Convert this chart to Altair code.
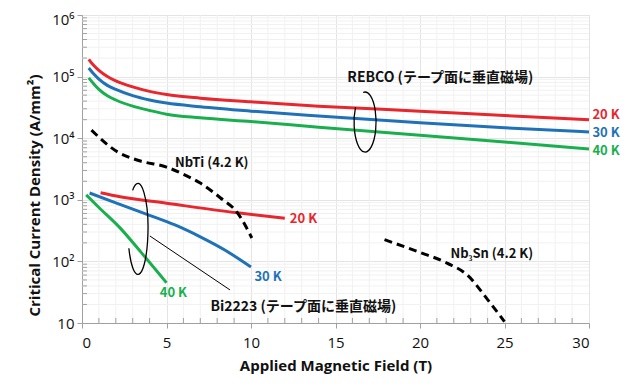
import altair as alt
import pandas as pd

# ---------------- data ----------------
rebco_x = [0.4, 0.7, 1, 1.5, 2, 3, 4, 5, 7, 10, 14, 20, 25, 30]
rebco_20 = [1.91e5, 1.51e5, 1.26e5, 1.0e5, 8.5e4, 6.8e4, 5.75e4, 5.13e4, 4.47e4, 3.89e4, 3.31e4, 2.75e4, 2.34e4, 2.0e4]
rebco_30 = [1.38e5, 1.10e5, 9.1e4, 7.2e4, 6.2e4, 4.9e4, 4.17e4, 3.72e4, 3.24e4, 2.75e4, 2.29e4, 1.78e4, 1.48e4, 1.26e4]
rebco_40 = [9.55e4, 7.6e4, 6.2e4, 4.9e4, 4.17e4, 3.31e4, 2.82e4, 2.45e4, 2.14e4, 1.86e4, 1.51e4, 1.12e4, 8.7e3, 6.7e3]

bi20_x = [1.1, 2.25, 5, 9.2, 12]
bi20_y = [1300, 1120, 880, 614, 500]
bi30_x = [0.45, 2, 4, 5.5, 7, 8.5, 10]
bi30_y = [1290, 890, 560, 390, 250, 150, 81]
bi40_x = [0.25, 1, 2.25, 3.5, 5]
bi40_y = [1200, 750, 350, 140, 45]

nbti_x = [0.56, 2.1, 3.4, 5.0, 6.0, 7.0, 8.2, 9.2, 10.05]
nbti_y = [1.35e4, 6.0e3, 4.3e3, 3.4e3, 2.6e3, 1.87e3, 1.07e3, 614, 240]

nb3sn_x = [17.9, 20, 21.6, 22.8, 24, 25]
nb3sn_y = [225, 140, 94, 60, 24, 10.5]

temps = ["20 K", "30 K", "40 K"]
temp_colors = ["#e8262d", "#1f72b8", "#1aaf4e"]

x_ticks = [0, 5, 10, 15, 20, 25, 30]
x_minor = [v for v in range(1, 30) if v % 5 != 0]
y_ticks = [10, 100, 1000, 10000, 100000, 1000000]
y_minor = [m * d for d in [10, 100, 1000, 10000, 100000] for m in range(2, 10)]

labels_text = ["REBCO (テープ面に垂直磁場)", "20 K", "30 K", "40 K", "NbTi (4.2 K)",
               "20 K", "30 K", "40 K", "Bi2223 (テープ面に垂直磁場)", "Nb₃Sn (4.2 K)"]
labels_x = [15.7, 30.2, 30.2, 30.2, 5.5, 12.3, 10.2, 4.6, 7.6, 21.8]
labels_y = [9.5e4, 2.4e4, 1.21e4, 6.2e3, 4.0e3, 490, 56, 31, 18, 132]
labels_size = [14, 13, 13, 13, 13, 13, 13, 13, 14, 13]
labels_col = ["#111111", temp_colors[0], temp_colors[1], temp_colors[2], "#111111",
              temp_colors[0], temp_colors[1], temp_colors[2], "#111111", "#111111"]

# ---------------- tables ----------------
rows = []
for name, xs_, ys_, t in [("REBCO20", rebco_x, rebco_20, "20 K"), ("REBCO30", rebco_x, rebco_30, "30 K"),
                          ("REBCO40", rebco_x, rebco_40, "40 K"), ("Bi20", bi20_x, bi20_y, "20 K"),
                          ("Bi30", bi30_x, bi30_y, "30 K"), ("Bi40", bi40_x, bi40_y, "40 K")]:
    for xv, yv in zip(xs_, ys_):
        rows.append({"series": name, "temp": t, "B": xv, "Jc": yv})
solid = pd.DataFrame(rows)

drows = []
for name, xs_, ys_ in [("NbTi", nbti_x, nbti_y), ("Nb3Sn", nb3sn_x, nb3sn_y)]:
    for xv, yv in zip(xs_, ys_):
        drows.append({"series": name, "B": xv, "Jc": yv})
dashed = pd.DataFrame(drows)

labels = pd.DataFrame({"text": labels_text, "B": labels_x, "Jc": labels_y,
                       "col": labels_col, "size": labels_size})

W, H = 507, 308
xs = alt.Scale(domain=[0, 30], nice=False)
ys = alt.Scale(type="log", domain=[10, 1e6], nice=False)
X = lambda **k: alt.X("B:Q", scale=xs, **k)
Y = lambda **k: alt.Y("Jc:Q", scale=ys, **k)

minor_vgrid = alt.Chart(pd.DataFrame({"B": x_minor})).mark_rule(color="#f1f1f1", strokeWidth=1).encode(
    x=X(), y=alt.value(0), y2=alt.value(H))
minor_hgrid = alt.Chart(pd.DataFrame({"Jc": y_minor})).mark_rule(color="#f1f1f1", strokeWidth=1).encode(
    y=Y(), x=alt.value(0), x2=alt.value(W))

axes = alt.Chart(pd.DataFrame({"B": [0, 30], "Jc": [10, 1e6]})).mark_point(opacity=0).encode(
    x=X(title="Applied Magnetic Field (T)",
        axis=alt.Axis(values=x_ticks, grid=True, gridColor="#e4e4e4", domainColor="#a0a0a0",
                      tickColor="#a0a0a0", tickSize=5, labelPadding=7, labelFontSize=15,
                      labelFont="Open Sans", labelColor="#111", titleFont="Open Sans",
                      titleFontSize=15, titleFontWeight="bold", titleColor="#111",
                      titleY=42, titleBaseline="middle")),
    y=Y(title="Critical Current Density (A/mm²)",
        axis=alt.Axis(values=y_ticks, grid=True, gridColor="#e4e4e4", domainColor="#a0a0a0",
                      tickColor="#a0a0a0", tickSize=5, labelPadding=3, labelFontSize=15,
                      labelFont="Open Sans", labelColor="#111", titleFont="Open Sans",
                      titleFontSize=15, titleFontWeight="bold", titleColor="#111",
                      titleX=-48, titleY=180, titleBaseline="middle", labelBound=False,
                      labelOffset={"condition": {"test": "datum.value >= 1000000", "value": 4}, "value": 0},
                      labelExpr="'10' + ['', '', '²', '³', '⁴', '⁵', '⁶'][round(log(datum.value) / LN10)]")),
)

xminor_ticks = alt.Chart(pd.DataFrame({"B": x_minor})).mark_rule(color="#a0a0a0").encode(
    x=X(), y=alt.value(H), y2=alt.value(H - 5))
yminor_ticks = alt.Chart(pd.DataFrame({"Jc": y_minor})).mark_rule(color="#a0a0a0").encode(
    y=Y(), x=alt.value(0), x2=alt.value(5))

lines = alt.Chart(solid).mark_line(strokeWidth=3, interpolate="monotone").encode(
    x=X(), y=Y(), detail="series:N",
    color=alt.Color("temp:N", scale=alt.Scale(domain=temps, range=temp_colors), legend=None))

dash = alt.Chart(dashed).mark_line(strokeWidth=3, strokeDash=[8, 5], color="black",
                                   interpolate="monotone").encode(x=X(), y=Y(), detail="series:N")

text = alt.Chart(labels).mark_text(align="left", baseline="middle", fontWeight="bold",
                                   font="Noto Sans CJK JP").encode(
    x=X(), y=Y(), text="text:N", color=alt.Color("col:N", scale=None),
    size=alt.Size("size:Q", scale=None))

ell1 = alt.Chart(pd.DataFrame({"B": [16.75], "Jc": [1.83e4]})).mark_point(
    shape="M -0.064 -0.985 A 0.367 1 0 1 1 -0.318 -0.5", size=3600, filled=False,
    stroke="black", strokeWidth=1.3, opacity=1).encode(x=X(), y=Y())
ell2 = alt.Chart(pd.DataFrame({"B": [3.31], "Jc": [336]})).mark_point(
    shape="M -0.117 -0.848 A 0.22 1 0 1 1 -0.199 0.423", size=8281, filled=False,
    stroke="black", strokeWidth=1.3, opacity=1).encode(x=X(), y=Y())

leader = alt.Chart(pd.DataFrame({"B": [4.02], "Jc": [258], "B2": [8.76], "Jc2": [34.4]})).mark_rule(
    color="black", strokeWidth=1).encode(x=X(), y=Y(), x2="B2:Q", y2="Jc2:Q")

chart = alt.layer(minor_vgrid, minor_hgrid, axes, xminor_ticks, yminor_ticks, lines, dash,
                  leader, ell1, ell2, text).properties(
    width=W, height=H,
    autosize=alt.AutoSizeParams(type="none"),
    padding={"left": 74, "top": 7, "right": 43, "bottom": 60},
).configure_view(stroke=None).configure(background="white")

chart.save("out.html", embed_options={"renderer": "svg", "actions": False})
